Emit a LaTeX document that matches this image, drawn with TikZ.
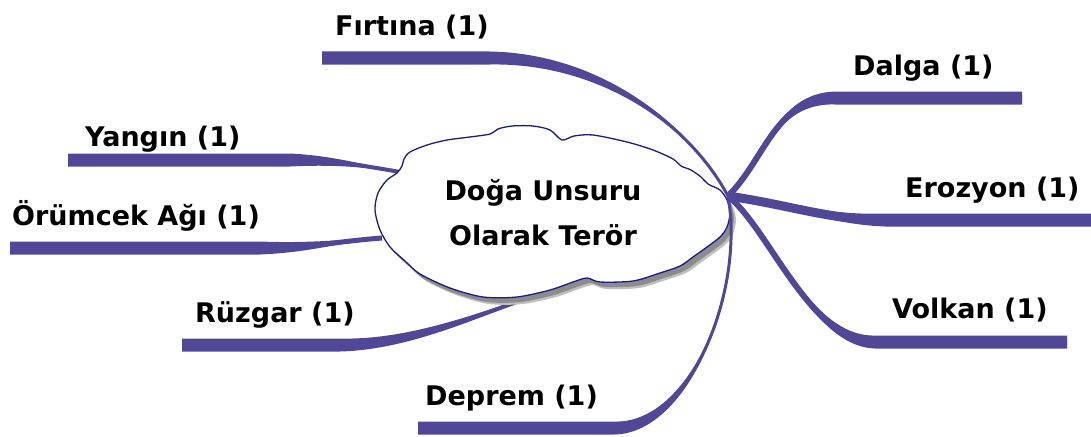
\documentclass[tikz,border=0pt]{standalone}
\usepackage{fontspec}
\setmainfont{DejaVu Sans}
\usetikzlibrary{calc}
\definecolor{brc}{RGB}{80,72,150}
\definecolor{cloudline}{RGB}{28,28,130}
\newcommand{\branch}[6][3pt]{%
  \draw[brc, line width=#1, line cap=butt] (#2) .. controls (#3) and (#4) .. (#5) -- (#6);
  \fill[brc] (#2) .. controls ($(#3)+(0,-1.5)$) and ($(#4)+(0,-4.5)$) .. ($(#5)+(0,-6.5)$) -- ($(#6)+(0,-6.5)$)
     -- ($(#6)+(0,6.5)$) -- ($(#5)+(0,6.5)$) .. controls ($(#4)+(0,4.5)$) and ($(#3)+(0,1.5)$) .. (#2) -- cycle;
}
\begin{document}
\begin{tikzpicture}[x=1pt,y=-1pt,
  lbl/.style={font=\fontsize{27}{32}\selectfont\bfseries, inner sep=0pt, anchor=base west},
  ctext/.style={font=\fontsize{27}{32}\selectfont\bfseries, inner sep=0pt, anchor=base}]
\useasboundingbox (0,0) rectangle (1091,436);
\fill[white] (0,0) rectangle (1091,436);
\coordinate (hub) at (728,196);
\coordinate (yA) at (400,172);
\coordinate (oA) at (382,238);
\coordinate (rA) at (575,282);
\coordinate (yE) at (68,160);
\coordinate (oE) at (10,248);
\coordinate (rE) at (182,345);
\coordinate (fE) at (322,58);
\coordinate (dE) at (1022,98);
\coordinate (eE) at (1091,220);
\coordinate (vE) at (1067,342);
\coordinate (pE) at (418,428);
% left branches (behind cloud)
\branch[4pt]{yA}{360,165}{330,160}{290,160}{yE}
\branch[5pt]{oA}{340,241}{310,248}{260,248}{oE}
\branch[4pt]{rA}{500,305}{420,345}{340,345}{rE}
% cloud
\def\cloudpath{plot[smooth cycle, tension=0.5] coordinates {(375,210) (378,193) (387,180) (397,173) (402,166) (404,159) (410,152) (427,145) (447,140) (470,137) (490,134) (498,129) (512,126) (533,126) (550,130) (562,140) (574,136) (593,135) (627,142) (653,150) (673,159) (681,166) (691,170) (701,177) (708,184) (720,190) (727,200) (730,213) (727,227) (720,237) (707,247) (693,257) (680,266) (660,273) (633,281) (600,282) (587,278) (573,282) (550,290) (517,297) (483,297) (450,288) (420,274) (405,261) (390,247) (380,230)}}
\fill[black!25, xshift=6pt, yshift=-7pt] \cloudpath;
\fill[black!45, xshift=4pt, yshift=-5pt] \cloudpath;
\filldraw[fill=white, draw=cloudline, line width=1.3pt] \cloudpath;
% right branches
\branch{hub}{690,125}{600,58}{490,58}{fE}
\branch[6pt]{hub}{765,160}{775,98}{835,98}{dE}
\branch[9pt]{hub}{790,205}{830,220}{885,220}{eE}
\branch[6pt]{hub}{770,230}{810,342}{875,342}{vE}
\branch{hub}{745,290}{690,428}{615,428}{pE}
% texts
\node[ctext] (c1) at (543,200) {Doğa Unsuru};
\node[ctext] (c2) at (543,245) {Olarak Terör};
\node[lbl] (firtina) at (335,36) {Fırtına (1)};
\node[lbl] (yangin) at (85,146) {Yangın (1)};
\node[lbl] (orumcek) at (12,225) {Örümcek Ağı (1)};
\node[lbl] (ruzgar) at (195,322) {Rüzgar (1)};
\node[lbl] (deprem) at (425,405) {Deprem (1)};
\node[lbl] (dalga) at (853,75) {Dalga (1)};
\node[lbl] (erozyon) at (905,197) {Erozyon (1)};
\node[lbl] (volkan) at (892,318) {Volkan (1)};
\end{tikzpicture}
\end{document}
